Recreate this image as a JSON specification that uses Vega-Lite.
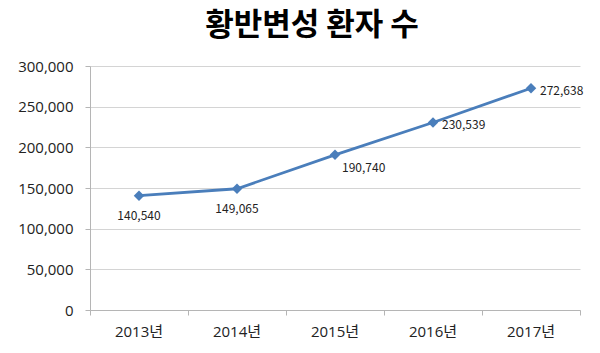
{
  "$schema": "https://vega.github.io/schema/vega-lite/v6.json",
  "autosize": "none",
  "width": 490,
  "height": 244,
  "padding": {"left": 90, "top": 66, "right": 20, "bottom": 43},
  "background": "white",
  "title": {
    "text": "황반변성 환자 수",
    "font": "Noto Sans CJK KR",
    "fontSize": 31,
    "fontWeight": "bold",
    "color": "#000000",
    "anchor": "middle",
    "dx": -23,
    "offset": 17
  },
  "config": {
    "view": {"stroke": null},
    "font": "Noto Sans CJK KR"
  },
  "data": {
    "values": [
      {"year": "2013년", "patients": 140540},
      {"year": "2014년", "patients": 149065},
      {"year": "2015년", "patients": 190740},
      {"year": "2016년", "patients": 230539},
      {"year": "2017년", "patients": 272638}
    ]
  },
  "encoding": {
    "x": {
      "field": "year",
      "type": "ordinal",
      "scale": {"type": "band", "paddingInner": 0, "paddingOuter": 0},
      "axis": {
        "title": null,
        "labelAngle": 0,
        "labelFont": "Open Sans, Noto Sans CJK KR",
        "labelFontSize": 15,
        "labelColor": "#222222",
        "labelPadding": 9,
        "domainColor": "#b5b5b5",
        "tickColor": "#b5b5b5",
        "tickSize": 5,
        "bandPosition": 1,
        "tickExtra": true,
        "grid": false
      }
    },
    "y": {
      "field": "patients",
      "type": "quantitative",
      "scale": {"domain": [0, 300000], "nice": false},
      "axis": {
        "title": null,
        "values": [0, 50000, 100000, 150000, 200000, 250000, 300000],
        "format": ",d",
        "labelFont": "Open Sans",
        "labelFontSize": 15,
        "labelColor": "#222222",
        "labelPadding": 12,
        "domainColor": "#b5b5b5",
        "tickColor": "#b5b5b5",
        "tickSize": 5,
        "gridColor": "#d4d4d4",
        "grid": true
      }
    }
  },
  "layer": [
    {
      "mark": {"type": "line", "color": "#4A7EBB", "strokeWidth": 2.8}
    },
    {
      "mark": {"type": "point", "shape": "diamond", "filled": true, "size": 110, "color": "#4A7EBB", "opacity": 1}
    },
    {
      "transform": [{"filter": "datum.year == '2013년' || datum.year == '2014년'"}],
      "mark": {"type": "text", "fontSize": 12, "color": "#222222", "dy": 20, "align": "center", "baseline": "middle"},
      "encoding": {"text": {"field": "patients", "type": "quantitative", "format": ",d"}}
    },
    {
      "transform": [{"filter": "datum.year == '2015년'"}],
      "mark": {"type": "text", "fontSize": 12, "color": "#222222", "dx": 7, "dy": 13, "align": "left", "baseline": "middle"},
      "encoding": {"text": {"field": "patients", "type": "quantitative", "format": ",d"}}
    },
    {
      "transform": [{"filter": "datum.year == '2016년' || datum.year == '2017년'"}],
      "mark": {"type": "text", "fontSize": 12, "color": "#222222", "dx": 9, "dy": 3, "align": "left", "baseline": "middle"},
      "encoding": {"text": {"field": "patients", "type": "quantitative", "format": ",d"}}
    }
  ]
}
